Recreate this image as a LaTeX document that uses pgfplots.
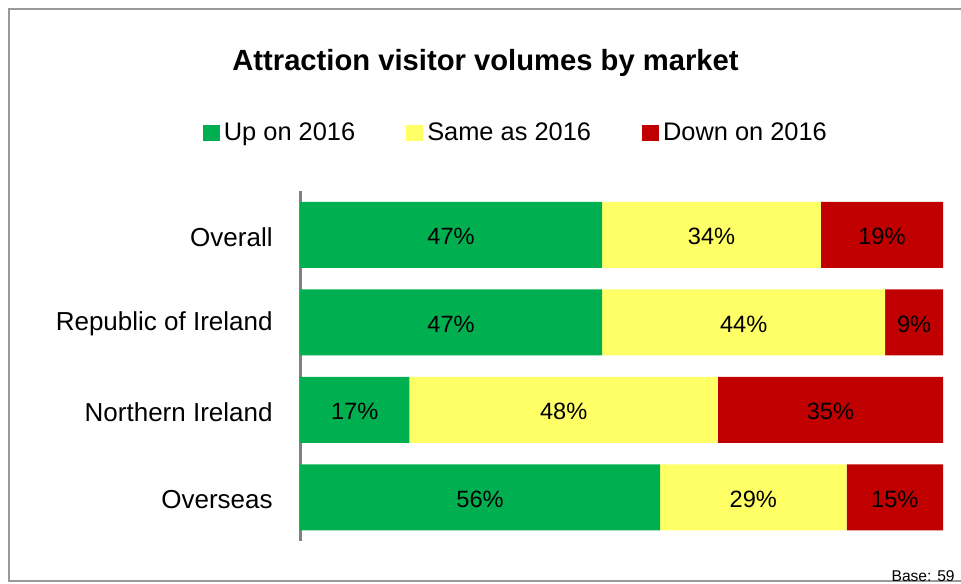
\documentclass[border=0pt]{standalone}
\usepackage{pgfplots}
\pgfplotsset{compat=1.18}
\usepackage{fontspec}
\setmainfont{Liberation Sans}
\definecolor{upgreen}{HTML}{00B050}
\definecolor{sameyellow}{HTML}{FFFF66}
\definecolor{downred}{HTML}{C00000}
\definecolor{framegray}{HTML}{999999}
\begin{document}
\begin{tikzpicture}
% 1 px of the reference = 0.5pt
\useasboundingbox (0,0) rectangle (480.5pt,-291.5pt);
\begin{scope}
\clip (0,0) rectangle (480.5pt,-291.5pt);
\draw[framegray, line width=0.8pt] (4.5pt,-4.5pt) rectangle (495pt,-290.5pt);
\end{scope}
\node[anchor=base, font=\bfseries\fontsize{14.6}{17}\selectfont] at (242.75pt,-35.5pt) {Attraction visitor volumes by market};
\node[anchor=base east, font=\fontsize{7.8}{9}\selectfont, inner sep=0pt] at (477.5pt,-290.5pt) {Base: 59};
\begin{axis}[
   at={(150pt,-270.5pt)}, anchor=south west,
   scale only axis, width=321.5pt, height=175pt,
   xbar stacked, bar width=33pt,
   xmin=0, xmax=100, ymin=-0.5, ymax=3.5,
   y dir=reverse,
   hide x axis,
   axis y line*=left,
   y axis line style={-, draw=gray, line width=1.5pt},
   ytick={0,1,2,3},
   yticklabels={Overall,Republic of Ireland,Northern Ireland,Overseas},
   ytick style={draw=none},
   yticklabel style={font=\fontsize{13}{15}\selectfont, inner sep=0pt, xshift=-13.5pt, yshift=-1pt},
   /pgf/number format/assume math mode=true,
   visualization depends on=rawx \as \rawx,
   nodes near coords={\pgfmathprintnumber[fixed,precision=0]{\rawx}\%},
   every node near coord/.append style={anchor=center, font=\fontsize{11.8}{14}\selectfont, black, yshift=-1pt},
   legend style={at={(-0.151,1.166)}, anchor=west, draw=none, fill=none,
      inner sep=0pt, outer sep=0pt, legend columns=-1,
      font=\fontsize{12.7}{15}\selectfont,
      /tikz/every even column/.append style={column sep=23.5pt}},
   legend cell align=left,
   legend image code/.code={\fill[#1] (0pt,-4pt) rectangle (8.5pt,4pt);},
]
\addplot[fill=upgreen, draw=none] coordinates {(47,0) (47,1) (17,2) (56,3)};
\addlegendentry{Up on 2016}
\addplot[fill=sameyellow, draw=none] coordinates {(34,0) (44,1) (48,2) (29,3)};
\addlegendentry{Same as 2016}
\addplot[fill=downred, draw=none] coordinates {(19,0) (9,1) (35,2) (15,3)};
\addlegendentry{Down on 2016}
\end{axis}
\end{tikzpicture}
\end{document}
